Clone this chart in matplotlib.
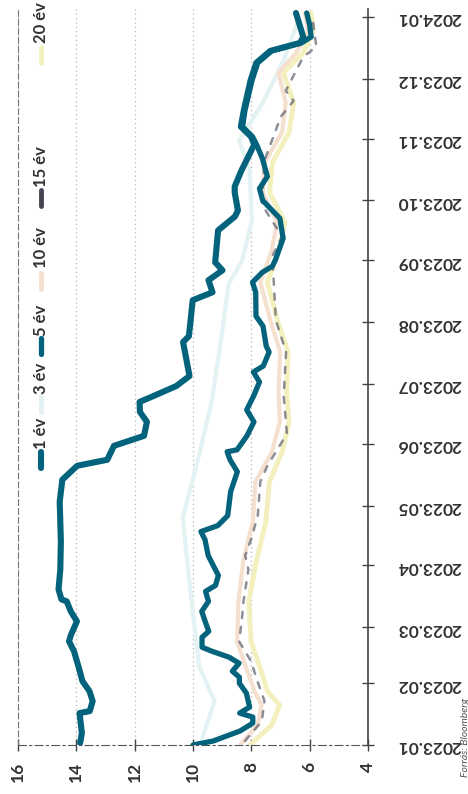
import matplotlib
matplotlib.use("Agg")
import matplotlib.pyplot as plt
import matplotlib.dates as mdates
import pandas as pd
from typing import Dict, List, Tuple
from matplotlib.lines import Line2D

plt.rcParams["font.family"] = ["Lato", "DejaVu Sans"]

# Hungarian government bond yields (%)
dates_1y = ["2023-01-02", "2023-01-07", "2023-01-17", "2023-01-18", "2023-01-23", "2023-01-28", "2023-02-02",
            "2023-02-08", "2023-02-17", "2023-02-22", "2023-02-25", "2023-03-04", "2023-03-09", "2023-03-14",
            "2023-03-15", "2023-03-20", "2023-03-30", "2023-04-13", "2023-05-03", "2023-05-14", "2023-05-21",
            "2023-05-24", "2023-05-31", "2023-06-05", "2023-06-12", "2023-06-17", "2023-06-22", "2023-06-25",
            "2023-06-30", "2023-07-05", "2023-07-22", "2023-07-25", "2023-08-12", "2023-08-16", "2023-08-22",
            "2023-08-27", "2023-08-31", "2023-09-16", "2023-09-23", "2023-09-26", "2023-10-05", "2023-10-08",
            "2023-10-16", "2023-10-29", "2023-11-02", "2023-11-07", "2023-11-15", "2023-11-30", "2023-12-09",
            "2023-12-15", "2023-12-19", "2023-12-22", "2024-01-03"]
yields_1y = [13.87, 13.81, 13.89, 13.54, 13.44, 13.55, 13.79, 13.90, 14.08, 14.25,
             14.19, 13.98, 14.19, 14.33, 14.51, 14.61, 14.55, 14.53, 14.57, 14.48,
             13.97, 12.94, 12.71, 11.68, 11.58, 11.82, 11.83, 11.35, 10.57, 10.12,
             10.34, 10.14, 10.01, 9.33, 9.47, 8.99, 9.24, 9.14, 8.56, 8.46,
             8.57, 8.57, 8.34, 7.90, 8.01, 8.36, 8.26, 8.03, 7.83, 7.35,
             6.33, 6.22, 6.47]

dates_3y = ["2023-01-01", "2023-01-23", "2023-02-09", "2023-03-04", "2023-03-29", "2023-04-25", "2023-05-23",
            "2023-06-22", "2023-07-23", "2023-08-20", "2023-09-01", "2023-09-21", "2023-10-16", "2023-10-31",
            "2023-11-20", "2023-12-10", "2023-12-30"]
yields_3y = [9.76, 9.26, 9.78, 9.97, 10.16, 10.35, 9.85, 9.36, 9.04, 8.78, 8.31, 7.98, 8.06, 8.42, 7.57, 6.90, 6.40]

dates_5y = ["2023-01-01", "2023-01-03", "2023-01-08", "2023-01-12", "2023-01-15", "2023-01-17", "2023-01-20",
            "2023-01-27", "2023-02-01", "2023-02-04", "2023-02-07", "2023-02-11", "2023-02-14", "2023-02-17",
            "2023-02-19", "2023-02-24", "2023-02-27", "2023-03-03", "2023-03-09", "2023-03-14", "2023-03-19",
            "2023-03-22", "2023-03-27", "2023-04-06", "2023-04-14", "2023-04-18", "2023-04-21", "2023-04-26",
            "2023-05-08", "2023-05-18", "2023-05-24", "2023-05-28", "2023-05-29", "2023-06-05", "2023-06-12",
            "2023-06-18", "2023-06-25", "2023-07-02", "2023-07-07", "2023-07-10", "2023-07-17", "2023-07-20",
            "2023-07-30", "2023-08-04", "2023-08-16", "2023-08-21", "2023-08-26", "2023-08-29", "2023-09-01",
            "2023-09-12", "2023-09-22", "2023-10-01", "2023-10-07", "2023-10-13", "2023-10-22", "2023-10-29",
            "2023-11-02", "2023-11-07", "2023-11-15", "2023-11-30", "2023-12-09", "2023-12-15", "2023-12-19",
            "2023-12-22", "2023-12-28", "2024-01-03"]
yields_5y = [10.00, 9.31, 8.39, 7.95, 7.95, 8.40, 8.06, 8.17, 8.41, 8.41,
             8.65, 8.42, 8.76, 9.35, 9.69, 9.69, 9.46, 9.56, 9.70, 9.47,
             9.57, 9.23, 9.13, 9.48, 9.59, 9.73, 9.15, 8.81, 8.71, 8.48,
             8.73, 8.83, 8.49, 8.15, 7.91, 8.16, 7.92, 7.72, 7.93, 7.59,
             7.39, 7.49, 7.60, 7.84, 7.85, 7.96, 7.62, 7.28, 7.18, 6.91,
             7.02, 7.61, 7.72, 7.45, 7.62, 7.82, 7.96, 8.30, 8.22, 7.98,
             7.78, 7.30, 6.28, 5.95, 6.00, 6.10]

dates_long = ["2023-01-01", "2023-01-11", "2023-01-21", "2023-01-28", "2023-02-07", "2023-02-22", "2023-03-14",
              "2023-04-03", "2023-04-23", "2023-05-13", "2023-05-28", "2023-06-12", "2023-06-27", "2023-07-17",
              "2023-08-01", "2023-08-21", "2023-09-05", "2023-09-20", "2023-10-05", "2023-10-20", "2023-11-04",
              "2023-11-19", "2023-12-04", "2023-12-14", "2023-12-25", "2024-01-03"]
yields_10y = [8.39, 7.78, 7.65, 7.89, 8.14, 8.49, 8.44, 8.28, 7.95, 7.86, 7.29, 7.02, 7.07,
              7.01, 7.33, 7.69, 7.32, 7.12, 7.61, 7.55, 6.95, 6.82, 7.07, 6.46, 6.05, 6.16]
yields_20y = [8.05, 7.30, 7.03, 7.45, 7.66, 8.01, 8.09, 7.83, 7.50, 7.38, 6.94, 6.71, 6.79,
              6.74, 7.09, 7.45, 7.08, 6.85, 7.37, 7.28, 6.71, 6.55, 6.90, 6.22, 5.88, 5.96]

dates_15y = ["2023-01-03", "2023-01-13", "2023-01-23", "2023-02-02", "2023-02-12", "2023-02-22", "2023-03-04",
             "2023-03-14", "2023-03-30", "2023-04-06", "2023-04-14", "2023-04-26", "2023-05-13", "2023-05-21",
             "2023-06-06", "2023-06-25", "2023-07-17", "2023-08-02", "2023-09-03", "2023-09-13", "2023-09-29",
             "2023-10-21", "2023-11-12", "2023-11-20", "2023-11-25", "2023-12-12", "2023-12-17", "2023-12-30"]
yields_15y = [8.22, 7.64, 7.55, 7.79, 8.01, 8.42, 8.33, 8.27, 8.10, 8.21, 8.01, 7.78, 7.69, 7.45,
              6.78, 6.89, 6.81, 7.16, 7.28, 6.95, 7.64, 7.55, 6.99, 6.55, 6.82, 6.22, 5.77, 5.89]

value_ticks = [16, 14, 12, 10, 8, 6, 4]
source_text = "Forrás: Bloomberg"

W, H = 468, 794
TEAL = "#04637c"
TEXT = "#333333"
# name -> (colour, line width, z-order, line style)
STYLES: Dict[str, Tuple[str, float, int, object]] = {
    "1 év": (TEAL, 4.4, 6, "-"),
    "3 év": ("#e3f2f2", 3.0, 2, "-"),
    "5 év": (TEAL, 3.8, 5, "-"),
    "10 év": ("#f5e0cf", 3.0, 3, "-"),
    "15 év": ("#5e5e6c", 1.8, 4, (0, (2.5, 3.5))),
    "20 év": ("#f3f0bd", 3.5, 2, "-"),
}
LEGEND_COLORS = {"15 év": "#444452"}


def fig_xy(px: float, py: float) -> Tuple[float, float]:
    return px / W, 1 - py / H


series: List[Tuple[str, List[str], List[float]]] = [
    ("20 év", dates_long, yields_20y),
    ("10 év", dates_long, yields_10y),
    ("3 év", dates_3y, yields_3y),
    ("15 év", dates_15y, yields_15y),
    ("5 év", dates_5y, yields_5y),
    ("1 év", dates_1y, yields_1y),
]

fig = plt.figure(figsize=(W / 100, H / 100), dpi=100)
ax = fig.add_axes([18 / W, 1 - 745 / H, 350 / W, 736 / H])

for name, dates, values in series:
    color, lw, z, ls = STYLES[name]
    alpha = 0.7 if name == "15 év" else 1.0
    ax.plot(values, pd.to_datetime(dates), color=color, linewidth=lw, zorder=z, alpha=alpha,
            linestyle=ls, solid_joinstyle="round", solid_capstyle="round", dash_capstyle="round")

# Rotated chart: values run right-to-left, dates bottom-to-top
ax.set_xlim(16, 4)
ax.set_ylim(pd.Timestamp("2023-01-01"), pd.Timestamp("2024-01-05"))

ax.set_xticks(value_ticks)
ax.set_xticklabels([str(v) for v in value_ticks])
ax.tick_params(axis="x", direction="inout", length=8, width=1, color="#444444", labelsize=12.5,
               labelrotation=90, pad=8, labelcolor=TEXT)

ax.yaxis.tick_right()
ax.yaxis.set_major_locator(mdates.MonthLocator())
ax.yaxis.set_major_formatter(mdates.DateFormatter("%Y.%m"))
ax.tick_params(axis="y", direction="inout", length=8, width=1, color="#444444", labelsize=12.5,
               labelrotation=180, pad=17, labelcolor=TEXT)
for lbl in ax.get_xticklabels() + ax.get_yticklabels():
    lbl.set_fontweight("bold")

ax.grid(axis="x", linestyle=(0, (1, 2.5)), color="#b4b4b4", linewidth=0.9)
ax.spines["top"].set_visible(False)
ax.spines["left"].set_linestyle((0, (5, 3)))
ax.spines["left"].set_color("#777777")
ax.spines["bottom"].set_linestyle((0, (7, 3, 2, 3)))
ax.spines["bottom"].set_color("#555555")
ax.spines["right"].set_color("#444444")
ax.spines["right"].set_linewidth(1.2)

# Legend drawn by hand, rotated along the left edge
legend_pos = {"1 év": (433, 460), "3 év": (378, 404), "5 év": (320, 346),
              "10 év": (248, 281), "15 év": (167, 198), "20 év": (23, 55)}
for name, (text_y, mark_y) in legend_pos.items():
    color, lw, _, _ = STYLES[name]
    color = LEGEND_COLORS.get(name, color)
    x0, y0 = fig_xy(41, mark_y + 8)
    x1, y1 = fig_xy(41, mark_y - 8)
    fig.add_artist(Line2D([x0, x1], [y0, y1], color=color, linewidth=max(lw, 3.5), solid_capstyle="round"))
    tx, ty = fig_xy(41, text_y)
    fig.text(tx, ty, name, rotation=90, ha="center", va="center", fontsize=12,
             fontweight="bold", color=TEXT)

sx, sy = fig_xy(465, 738)
fig.text(sx, sy, source_text, rotation=90, ha="center", va="center", fontsize=7.5,
         style="italic", color="#555555")

fig.savefig("out.png", dpi=100)
